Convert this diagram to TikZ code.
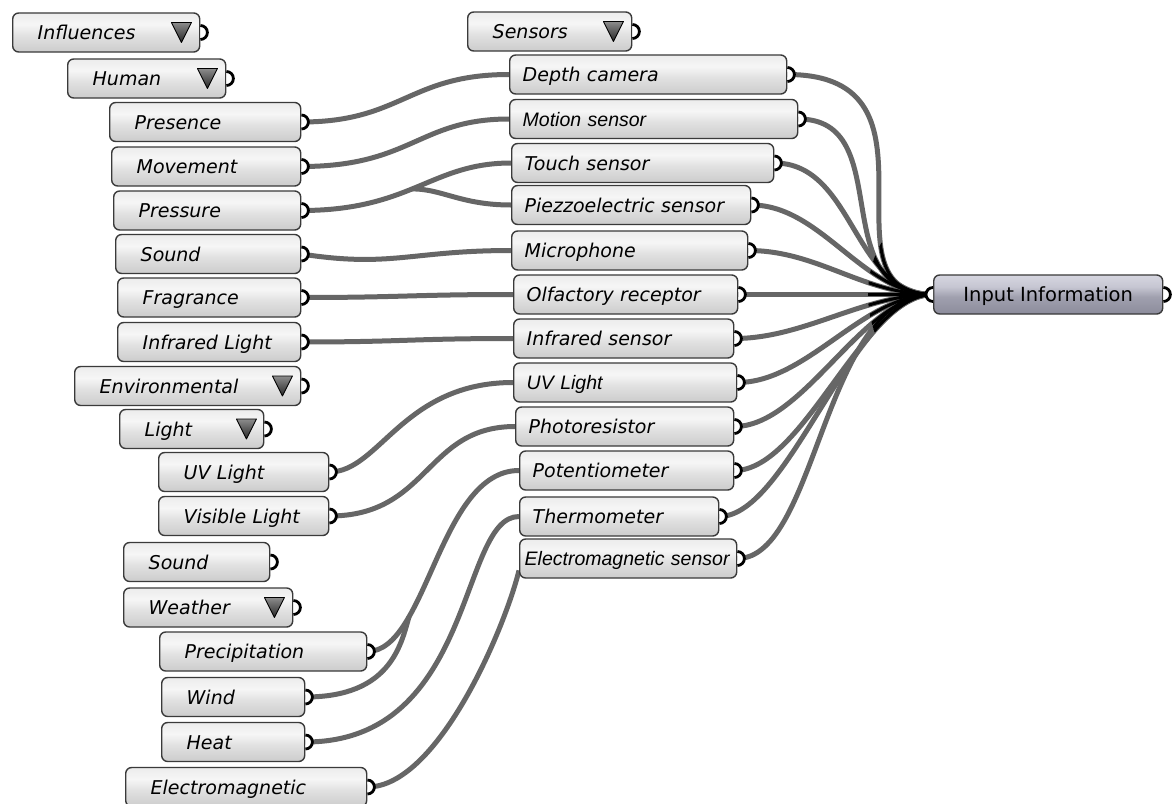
\documentclass[tikz,border=0pt]{standalone}
\usepackage{fontspec}
\newfontfamily\ghsans{DejaVu Sans}
\newfontfamily\ghnarrow{Liberation Sans}

\definecolor{ghedge}{RGB}{58,58,58}
\definecolor{ghtop}{RGB}{236,236,236}
\definecolor{ghhi}{RGB}{246,246,246}
\definecolor{ghmid}{RGB}{226,226,226}
\definecolor{ghbot}{RGB}{204,204,204}
\definecolor{intop}{RGB}{214,214,224}
\definecolor{inhi}{RGB}{198,198,210}
\definecolor{inmid}{RGB}{160,160,174}
\definecolor{inbot}{RGB}{140,140,156}
\definecolor{wiregray}{RGB}{102,102,102}

\pgfdeclareverticalshading{ghshade}{100bp}{color(0bp)=(ghbot); color(25bp)=(ghbot); color(47bp)=(ghmid); color(60bp)=(ghhi); color(75bp)=(ghtop); color(100bp)=(ghtop)}
\pgfdeclareverticalshading{inshade}{100bp}{color(0bp)=(inbot); color(25bp)=(inbot); color(47bp)=(inmid); color(60bp)=(inhi); color(75bp)=(intop); color(100bp)=(intop)}

\pgfdeclarelayer{background}
\pgfsetlayers{background,main}

\newcommand{\plug}[1]{\path[plug] ([yshift=7pt]#1.east) arc[start angle=90, end angle=-90, radius=7pt];}

\newcommand{\fanwires}[1]{%
  \draw[#1] (depth.east) .. controls +(170,0) and +(-120,0) .. (input.west);
  \draw[#1] (motion.east) .. controls +(100,0) and +(-110,0) .. (input.west);
  \draw[#1] (touch.east) .. controls +(80,0) and +(-80,0) .. (input.west);
  \draw[#1] (piezo.east) .. controls +(70,0) and +(-70,0) .. (input.west);
  \draw[#1] (mic.east) .. controls +(70,0) and +(-70,0) .. (input.west);
  \draw[#1] (olfactory.east) -- (input.west);
  \draw[#1] (irsensor.east) .. controls +(70,0) and +(-70,0) .. (input.west);
  \draw[#1] (uvsensor.east) .. controls +(70,0) and +(-70,0) .. (input.west);
  \draw[#1] (photo.east) .. controls +(70,0) and +(-70,0) .. (input.west);
  \draw[#1] (poten.east) .. controls +(70,0) and +(-70,0) .. (input.west);
  \draw[#1] (thermo.east) .. controls +(70,0) and +(-80,0) .. (input.west);
  \draw[#1] (emsensor.east) .. controls +(80,0) and +(-110,0) .. (input.west);
}

\begin{document}
\begin{tikzpicture}[x=1pt, y=-1pt,
  gh/.style={draw=ghedge, line width=1.4pt, rounded corners=6pt, shade, shading=ghshade,
       minimum height=39pt, inner ysep=0pt, text height=16pt, text depth=2pt,
       anchor=west, align=left, font=\ghsans\itshape\fontsize{19}{22}\selectfont},
  vbox/.style={gh, inner xsep=25pt, text width=#1},
  sbox/.style={gh, inner xsep=13pt, text width=#1},
  narrow/.style={font=\ghnarrow\itshape\fontsize{19.5}{22}\selectfont},
  outbox/.style={gh, shading=inshade, minimum width=229pt, inner xsep=5pt,
       font=\ghsans\fontsize{19.5}{22}\selectfont},
  tri/.style={draw=black, line width=0.9pt, line join=round, top color=black!45, bottom color=black!85},
  plug/.style={draw=black, fill=white, line width=2.8pt},
  wire/.style={draw=wiregray, line width=5pt},
  core/.style={draw=black, line width=3pt}]

\useasboundingbox (0,0) rectangle (1172,803);

\node[vbox=137pt] (influences) at (12,32.5) {Influences};
\node[vbox=108pt] (human) at (67,78.5) {Human};
\node[vbox=141pt] (presence) at (109,122) {Presence};
\node[vbox=139pt] (movement) at (111,166.5) {Movement};
\node[vbox=137pt] (pressure) at (113,210.5) {Pressure};
\node[vbox=135pt] (sound) at (115,254) {Sound};
\node[vbox=133pt] (fragrance) at (117,297.5) {Fragrance};
\node[vbox=133pt] (infrared) at (117,342) {Infrared Light};
\node[vbox=176pt] (environmental) at (74,386) {Environmental};
\node[vbox=94pt] (light) at (119,429) {Light};
\node[vbox=120pt] (uvlight) at (158,472) {UV Light};
\node[vbox=120pt] (visible) at (158,516) {Visible Light};
\node[vbox=96pt] (soundenv) at (123,562) {Sound};
\node[vbox=119pt] (weather) at (123,607.5) {Weather};
\node[vbox=157pt] (precip) at (159,651.5) {Precipitation};
\node[vbox=93pt] (wind) at (161,697) {Wind};
\node[vbox=93pt] (heat) at (161,742) {Heat};
\node[vbox=191pt] (electro) at (125,787) {Electromagnetic};

\node[vbox=114pt] (sensors) at (467,31.5) {Sensors};
\node[sbox=251pt] (depth) at (509,74.5) {Depth camera};
\node[sbox=262pt, narrow] (motion) at (509,119) {Motion sensor};
\node[sbox=236pt] (touch) at (511,163) {Touch sensor};
\node[sbox=213pt] (piezo) at (511,205) {Piezzoelectric sensor};
\node[sbox=210pt] (mic) at (511,250.5) {Microphone};
\node[sbox=198pt] (olfactory) at (513,294.5) {Olfactory receptor};
\node[sbox=194pt] (irsensor) at (513,338.5) {Infrared sensor};
\node[sbox=197pt, narrow] (uvsensor) at (513,382.5) {UV Light};
\node[sbox=192pt] (photo) at (515,426.5) {Photoresistor};
\node[sbox=188pt] (poten) at (519,470.5) {Potentiometer};
\node[sbox=173pt] (thermo) at (519,516.5) {Thermometer};
\node[sbox=207pt, narrow, inner xsep=5pt] (emsensor) at (519,558.5) {\mbox{Electromagnetic sensor}};

\node[outbox] (input) at (933,294.5) {Input Information};

\draw[tri] ([shift={(-29,-10)}]influences.east) -- ++(20,0) -- ++(-10,20) -- cycle;
\draw[tri] ([shift={(-29,-10)}]human.east) -- ++(20,0) -- ++(-10,20) -- cycle;
\draw[tri] ([shift={(-29,-10)}]environmental.east) -- ++(20,0) -- ++(-10,20) -- cycle;
\draw[tri] ([shift={(-28,-10)}]light.east) -- ++(20,0) -- ++(-10,20) -- cycle;
\draw[tri] ([shift={(-29,-10)}]weather.east) -- ++(20,0) -- ++(-10,20) -- cycle;
\draw[tri] ([shift={(-29,-10)}]sensors.east) -- ++(20,0) -- ++(-10,20) -- cycle;

\plug{influences} \plug{human} \plug{presence} \plug{movement} \plug{pressure}
\plug{sound} \plug{fragrance} \plug{infrared} \plug{environmental} \plug{light}
\plug{uvlight} \plug{visible} \plug{soundenv} \plug{weather} \plug{precip}
\plug{wind} \plug{heat} \plug{electro}
\plug{sensors} \plug{depth} \plug{motion} \plug{touch} \plug{piezo} \plug{mic}
\plug{olfactory} \plug{irsensor} \plug{uvsensor} \plug{photo} \plug{poten}
\plug{thermo} \plug{emsensor} \plug{input}
\path[plug] ([yshift=7pt]input.west) arc[start angle=90, end angle=270, radius=7pt];

\begin{pgfonlayer}{background}
\fill[white] (0,0) rectangle (1172,803);

\draw[wire] (presence.east) .. controls +(100,0) and +(-100,0) .. (depth.west);
\draw[wire] (movement.east) .. controls +(110,0) and +(-90,0) .. (motion.west);
\draw[wire] (pressure.east) .. controls +(110,0) and +(-80,0) .. (touch.west) coordinate[pos=0.47] (fork);
\draw[wire] (fork) .. controls +(30,0) and +(-50,0) .. (piezo.west);
\draw[wire] (sound.east) .. controls +(90,14) and +(-100,0) .. (mic.west);
\draw[wire] (fragrance.east) .. controls +(100,0) and +(-100,0) .. (olfactory.west);
\draw[wire] (infrared.east) .. controls +(100,0) and +(-100,0) .. (irsensor.west);
\draw[wire] (uvlight.east) .. controls +(50,0) and +(-110,0) .. (uvsensor.west);
\draw[wire] (visible.east) .. controls +(100,0) and +(-90,0) .. (photo.west);
\draw[wire] (precip.east) .. controls +(60,0) and +(-80,0) .. (poten.west) coordinate[pos=0.28] (windjoin);
\draw[wire] (wind.east) .. controls +(85,0) and +(-8,28) .. (windjoin);
\draw[wire] (heat.east) .. controls +(170,0) and +(-60,0) .. (thermo.west);
\draw[wire] (electro.east) .. controls +(70,0) and +(-15,60) .. ([yshift=-12pt]emsensor.west);

\fanwires{wire}
\begin{scope}
\clip (input.west) ellipse[x radius=65pt, y radius=85pt];
\fanwires{core}
\end{scope}
\end{pgfonlayer}

\end{tikzpicture}
\end{document}
